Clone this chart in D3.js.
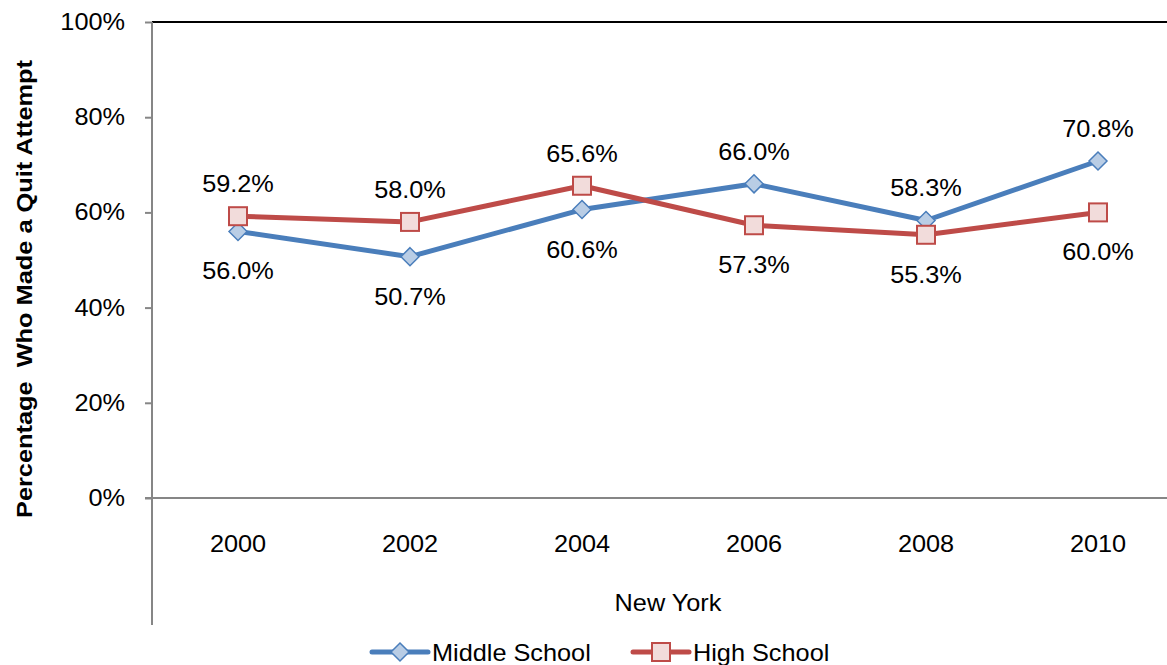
<!DOCTYPE html>
<html>
<head>
<meta charset="utf-8">
<script src="https://cdn.jsdelivr.net/npm/d3@7"></script>
<style>
  body { margin: 0; background: #fff; }
  text { font-family: "Liberation Sans", Arial, sans-serif; fill: #000; }
</style>
</head>
<body>
<div id="chart"></div>
<script>
var years = ["2000", "2002", "2004", "2006", "2008", "2010"];
var middleSchool = [56.0, 50.7, 60.6, 66.0, 58.3, 70.8];
var highSchool = [59.2, 58.0, 65.6, 57.3, 55.3, 60.0];
// label above (-1) or below (+1) the point
var middlePos = [1, 1, 1, -1, -1, -1];
var highPos = [-1, -1, -1, 1, 1, 1];
var yTicks = [0, 20, 40, 60, 80, 100];

var width = 1167,
    height = 665;

var plot = { left: 152, top: 22, right: 1184, bottom: 498 };
var stretch = 1.1; // the reference text is a bit wide

var svg = d3.select("#chart")
    .append("svg")
    .attr("width", width)
    .attr("height", height);

var xScale = d3.scalePoint()
    .domain(years)
    .range([plot.left, plot.right])
    .padding(0.5);

var yScale = d3.scaleLinear()
    .domain([0, 100])
    .range([plot.bottom, plot.top]);

function label(parent, x, y, str, anchor) {
    return parent.append("text")
        .attr("transform", "translate(" + x + "," + y + ") scale(" + stretch + ",1)")
        .attr("text-anchor", anchor || "middle")
        .style("font-size", "23px")
        .text(str);
}

// top border of plot area
svg.append("line")
    .attr("x1", plot.left).attr("x2", plot.right)
    .attr("y1", plot.top).attr("y2", plot.top)
    .style("stroke", "#000")
    .style("stroke-width", 2);

// y axis ticks
var yAxis = d3.axisLeft(yScale)
    .tickValues(yTicks)
    .tickSize(7)
    .tickFormat("");

var gY = svg.append("g")
    .attr("transform", "translate(" + plot.left + ",0)")
    .call(yAxis);
gY.select(".domain").remove();
gY.selectAll(".tick line").style("stroke", "#868686").style("stroke-width", 2);

yTicks.forEach(function(t) {
    label(svg, 125, yScale(t) + 8, t + "%", "end");
});

// long left axis line
svg.append("line")
    .attr("x1", plot.left).attr("x2", plot.left)
    .attr("y1", plot.top).attr("y2", 625)
    .style("stroke", "#868686")
    .style("stroke-width", 2);

// x axis line
svg.append("line")
    .attr("x1", plot.left - 7).attr("x2", plot.right)
    .attr("y1", plot.bottom).attr("y2", plot.bottom)
    .style("stroke", "#868686")
    .style("stroke-width", 2);

years.forEach(function(d) {
    label(svg, xScale(d), 552, d);
});

label(svg, 668, 611, "New York");

svg.append("text")
    .attr("transform", "translate(32,289) rotate(-90)")
    .attr("text-anchor", "middle")
    .attr("textLength", 458)
    .attr("lengthAdjust", "spacingAndGlyphs")
    .style("font-size", "22px")
    .style("font-weight", "bold")
    .style("white-space", "pre")
    .text("Percentage  Who Made a Quit Attempt");

var line = d3.line()
    .x(function(d, i) { return xScale(years[i]); })
    .y(function(d) { return yScale(d); });

var series = [
    { name: "Middle School", values: middleSchool, pos: middlePos, stroke: "#4a7ebb", fill: "#b9cde5", shape: "diamond" },
    { name: "High School", values: highSchool, pos: highPos, stroke: "#be4b48", fill: "#f2dcdb", shape: "square" }
];

function drawMarker(g, s, x, y) {
    if (s.shape === "diamond") {
        g.append("path")
            .attr("d", "M" + x + "," + (y - 9) + "L" + (x + 9) + "," + y + "L" + x + "," + (y + 9) + "L" + (x - 9) + "," + y + "Z")
            .style("fill", s.fill)
            .style("stroke", s.stroke)
            .style("stroke-width", 1.5);
    } else {
        g.append("rect")
            .attr("x", x - 9).attr("y", y - 9)
            .attr("width", 18).attr("height", 18)
            .style("fill", s.fill)
            .style("stroke", s.stroke)
            .style("stroke-width", 2);
    }
}

series.forEach(function(s) {
    svg.append("path")
        .datum(s.values)
        .attr("d", line)
        .style("fill", "none")
        .style("stroke", s.stroke)
        .style("stroke-width", 5)
        .style("stroke-linejoin", "round");
});

series.forEach(function(s) {
    var g = svg.append("g");
    s.values.forEach(function(v, i) {
        drawMarker(g, s, xScale(years[i]), yScale(v));
        label(g, xScale(years[i]), yScale(v) + (s.pos[i] > 0 ? 48 : -24), v.toFixed(1) + "%");
    });
});

// legend
var legendItems = [
    { s: series[0], x: 372 },
    { s: series[1], x: 633 }
];
legendItems.forEach(function(item) {
    var g = svg.append("g");
    var cy = 652;
    g.append("line")
        .attr("x1", item.x).attr("x2", item.x + 56)
        .attr("y1", cy).attr("y2", cy)
        .style("stroke", item.s.stroke)
        .style("stroke-width", 5)
        .style("stroke-linecap", "round");
    drawMarker(g, item.s, item.x + 28, cy);
    label(g, item.x + 60, cy + 9, item.s.name, "start");
});
</script>
</body>
</html>
